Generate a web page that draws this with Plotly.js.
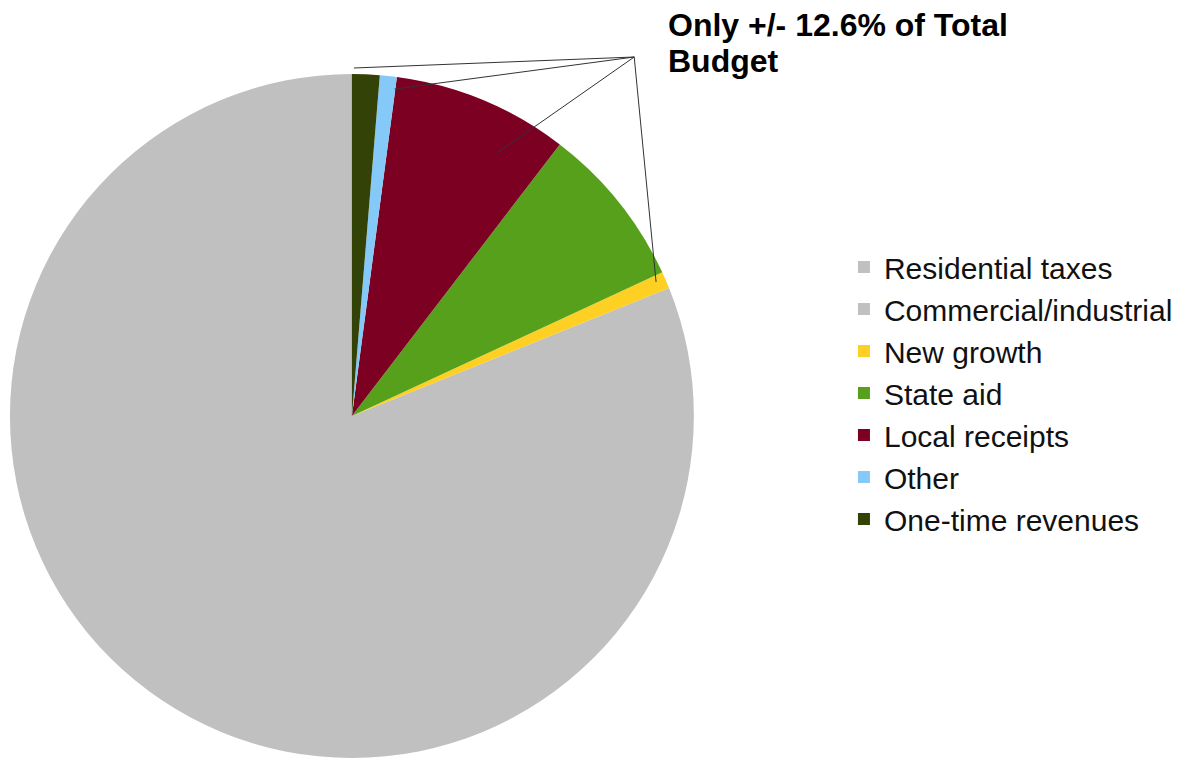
<!DOCTYPE html>
<html>
<head>
<meta charset="utf-8">
<script src="https://cdn.plot.ly/plotly-3.0.1.min.js"></script>
<style>html,body{margin:0;padding:0;background:#fff;}#chart{width:1178px;height:762px;}</style>
</head>
<body>
<div id="chart"></div>
<script>
const labels = ['Residential taxes','Commercial/industrial','New growth','State aid','Local receipts','Other','One-time revenues'];
const values = [75.0, 6.1, 0.8, 7.7, 8.3, 0.8, 1.3];
const colors = ['#c0c0c0','#c0c0c0','#fdd023','#57a01b','#7b0022','#85c9f9','#334207'];
const calloutLines = ['Only +/- 12.6% of Total', 'Budget'];

const W = 1178, H = 762;
const px = v => v / W;
const py = v => 1 - v / H;

const apex = [638, 57];
const leaderEnds = [[356, 68], [397, 89], [500, 153], [660, 282]];
const shapes = leaderEnds.map(e => ({
  type: 'line', xref: 'paper', yref: 'paper',
  x0: px(apex[0]), y0: py(apex[1]), x1: px(e[0]), y1: py(e[1]),
  line: {color: '#333333', width: 1}
}));

const data = [{
  type: 'pie',
  labels: labels,
  values: values,
  marker: {colors: colors, line: {width: 0}},
  sort: false,
  direction: 'counterclockwise',
  rotation: 90,
  textinfo: 'none',
  hoverinfo: 'label+percent',
  domain: {x: [px(10), px(698)], y: [py(760), py(72)]}
}];

const layout = {
  width: W, height: H,
  margin: {l: 0, r: 0, t: 0, b: 0},
  paper_bgcolor: '#ffffff',
  font: {family: 'Liberation Sans, Arial, sans-serif', color: '#000000'},
  showlegend: true,
  legend: {
    x: px(849), y: py(241), xanchor: 'left', yanchor: 'top',
    font: {size: 30, family: 'Liberation Sans, Arial, sans-serif', color: '#111111'},
    bgcolor: 'rgba(0,0,0,0)'
  },
  shapes: shapes,
  annotations: [
    {xref: 'paper', yref: 'paper', x: px(670), y: py(25), xanchor: 'left', yanchor: 'middle',
     text: '<b>' + calloutLines[0] + '</b>', showarrow: false,
     font: {size: 32, family: 'Liberation Sans, Arial, sans-serif', color: '#000000'}},
    {xref: 'paper', yref: 'paper', x: px(670), y: py(61), xanchor: 'left', yanchor: 'middle',
     text: '<b>' + calloutLines[1] + '</b>', showarrow: false,
     font: {size: 32, family: 'Liberation Sans, Arial, sans-serif', color: '#000000'}}
  ]
};

Plotly.newPlot('chart', data, layout, {displayModeBar: false, staticPlot: true});
</script>
</body>
</html>
